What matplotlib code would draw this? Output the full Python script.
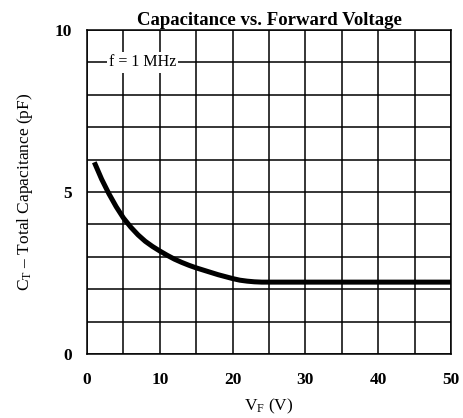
import matplotlib
matplotlib.use("Agg")
import matplotlib.pyplot as plt
import numpy as np

plt.rcParams['font.family'] = ['Liberation Serif', 'DejaVu Serif']
plt.rcParams['mathtext.fontset'] = 'custom'
plt.rcParams['mathtext.rm'] = 'Liberation Serif'
plt.rcParams['mathtext.it'] = 'Liberation Serif'

vf = [1, 2, 3, 4, 5, 6, 7, 8, 9, 10, 11, 12, 13, 14, 15, 16, 17, 18, 19, 20,
      21, 22, 23, 24, 30, 35, 40, 45, 50]
ct = [5.92, 5.4, 4.95, 4.55, 4.2, 3.92, 3.68, 3.48, 3.32, 3.18, 3.05, 2.93, 2.83,
      2.74, 2.66, 2.59, 2.52, 2.45, 2.39, 2.33, 2.28, 2.25, 2.23, 2.22, 2.22,
      2.22, 2.22, 2.22, 2.22]

xticks = [0, 10, 20, 30, 40, 50]
yticks = [0, 5, 10]

fig = plt.figure(figsize=(4.63, 4.18), dpi=100)
ax = fig.add_axes([0.188, 0.153, 0.786, 0.775])
ax.set_xlim(0, 50)
ax.set_ylim(0, 10)

for x in np.arange(0, 51, 5):
    ax.axvline(x, color='black', lw=1.1, zorder=1)
for y in np.arange(0, 11, 1):
    ax.axhline(y, color='black', lw=1.1, zorder=1)

ax.plot(vf, ct, color='black', lw=3.6, solid_capstyle='butt',
        solid_joinstyle='round', zorder=3)

ax.text(3.0, 9.0, 'f = 1 MHz', fontsize=11.5, va='center', ha='left',
        bbox=dict(facecolor='white', edgecolor='none', pad=1.5), zorder=4)

ax.set_xticks(xticks)
ax.set_yticks(yticks)
ax.set_xticklabels([str(t) for t in xticks], fontweight='bold', fontsize=12.5)
ax.set_yticklabels([str(t) for t in yticks], fontweight='bold', fontsize=12.5)
ax.tick_params(axis='x', length=0, pad=13)
ax.tick_params(axis='y', length=0, pad=11)
for s in ax.spines.values():
    s.set_linewidth(1.1)

ax.set_title('Capacitance vs. Forward Voltage', fontweight='bold', fontsize=13.5, pad=4)
ax.set_xlabel(r'V$_\mathregular{F}$ (V)', fontsize=12.5, labelpad=6)
ax.set_ylabel(r'C$_\mathregular{T}$ – Total Capacitance (pF)', fontsize=12.5, labelpad=14)

fig.savefig('out.png', dpi=100)
